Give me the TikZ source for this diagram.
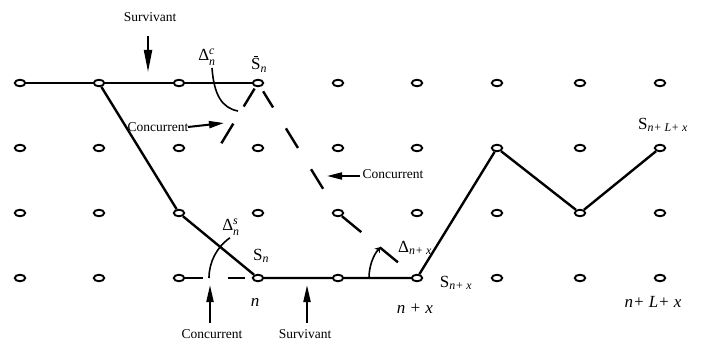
\documentclass[tikz,border=0pt]{standalone}
\usepackage{amsmath}
\usepackage{fontspec}
\setmainfont{Liberation Serif}
\usetikzlibrary{arrows.meta,shapes.geometric}
\newcommand{\barS}{\rlap{\hspace{3.2pt}\raisebox{13pt}{\rule{4pt}{0.7pt}}}S}
\begin{document}
\begin{tikzpicture}[x=1pt,y=-1pt,
  dot/.style={draw, ellipse, line width=1.9pt, minimum width=10.5pt, minimum height=6.5pt, inner sep=0pt},
  trail/.style={line width=2.4pt},
  thinarc/.style={line width=1.6pt},
  lbl/.style={font=\fontsize{13.5}{15}\selectfont, inner sep=0pt},
  mlbl/.style={font=\fontsize{17}{19}\selectfont, inner sep=0pt},
  pointer/.style={line width=2pt}
]
\useasboundingbox (0,0) rectangle (701,345);

% grid of states
\foreach \i/\x in {0/20,1/99,2/179,3/258,4/338,5/417,6/497,7/580,8/660}
  \foreach \j/\y in {0/83,1/148,2/213,3/278}
    \node[dot] (n\i\j) at (\x,\y) {};

% survivor path
\draw[line width=1.5pt] (n00) -- (n10);
\draw[trail] (n10) -- (n20) -- (n30);
\draw[trail, line join=round] (n10) -- (n22) -- (n33) -- (n43) -- (n53) -- (n61) -- (n72) -- (n81);

% concurrent (dashed) paths
\draw[trail, dash pattern=on 0pt off 5.2pt on 19pt off 24.5pt on 23pt off 25pt on 23pt off 60pt] (n30) -- (n42);
\draw[trail, dash pattern=on 0pt off 2pt on 21pt off 20pt on 23pt off 200pt] (n30) -- (n22);
\draw[trail, dash pattern=on 25pt off 24pt on 23.5pt off 60pt] (n42) -- (n53);
\draw[trail, dash pattern=on 18pt off 25pt on 17pt off 50pt] (n23) -- (n33);

% angle arcs
\draw[thinarc] ([shift={(-49,0)}]n33.center) arc[start angle=180, end angle=235, radius=49];
\draw[thinarc, -{Stealth[length=5pt,width=7pt]}] ([shift={(-48,0)}]n53.center) arc[start angle=180, end angle=220, radius=48];
\draw[thinarc] (212,68) .. controls (214,95) and (222,108) .. (238,111);

% labels
\node[mlbl] (dc) at (207,57) {Δ$^{\textit{c}}_{\textit{n}}$};
\node[mlbl] (sbar) at (259,64) {\barS$_{\textit{n}}$};
\node[mlbl] (ds) at (231,227) {Δ$^{\textit{s}}_{\textit{n}}$};
\node[mlbl] (sn) at (261,256) {S$_{\textit{n}}$};
\node[mlbl] (nlab) at (255,302) {\textit{n}};
\node[mlbl] (dnx) at (415,248) {Δ$_{\textit{n+ x}}$};
\node[mlbl] (snx) at (456,283) {S$_{\textit{n+ x}}$};
\node[mlbl] (nx) at (415,309) {\textit{n + x}};
\node[mlbl] (snlx) at (663,125) {S$_{\textit{n+ L+ x}}$};
\node[mlbl] (nlx) at (653,302) {\textit{n+ L+ x}};

% pointer labels
\node[lbl] (survT) at (150,17) {Survivant};
\coordinate (survTa) at (148,36);
\coordinate (survTb) at (148,72);
\draw[pointer, -{Triangle[length=22pt,width=8pt]}] (survTa) -- (survTb);

\node[lbl] (concL) at (158,127) {Concurrent};
\coordinate (concLa) at (188,127);
\coordinate (concLb) at (224,123);
\draw[pointer, -{Triangle[length=15pt,width=7pt]}] (concLa) -- (concLb);

\node[lbl] (concR) at (393,174) {Concurrent};
\coordinate (concRa) at (360,176);
\coordinate (concRb) at (327,176);
\draw[pointer, -{Triangle[length=15pt,width=7pt]}] (concRa) -- (concRb);

\node[lbl] (concB) at (212,334) {Concurrent};
\coordinate (concBa) at (210,323);
\coordinate (concBb) at (210,285);
\draw[pointer, -{Triangle[length=17pt,width=7pt]}] (concBa) -- (concBb);

\node[lbl] (survB) at (305,334) {Survivant};
\coordinate (survBa) at (307,323);
\coordinate (survBb) at (307,285);
\draw[pointer, -{Triangle[length=17pt,width=7pt]}] (survBa) -- (survBb);
\end{tikzpicture}
\end{document}
